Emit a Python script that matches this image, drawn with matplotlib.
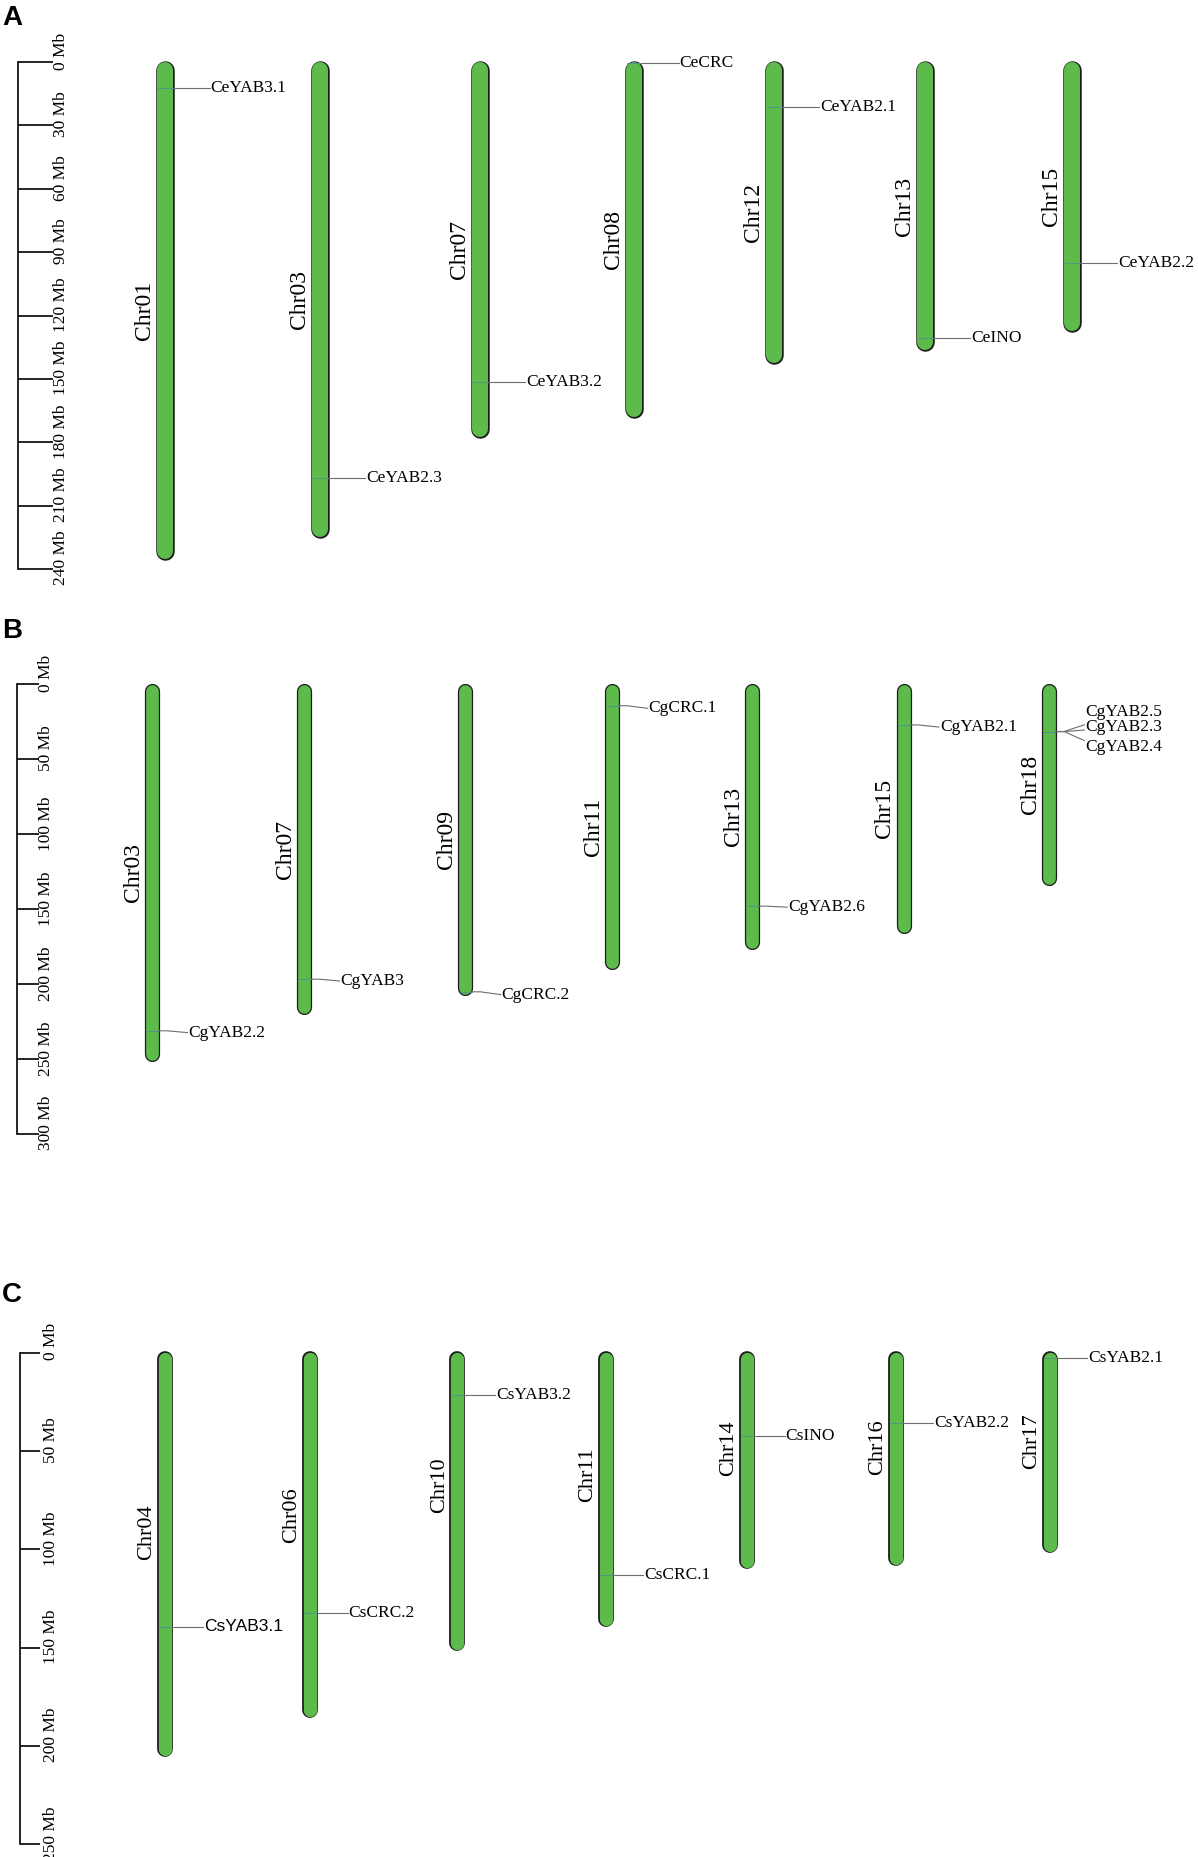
import matplotlib.pyplot as plt
from matplotlib import patheffects as pe

W, H, DPI = 1198, 1857, 100
SERIF = ['Liberation Serif', 'DejaVu Serif']
SANS = ['Liberation Sans', 'DejaVu Sans']

# ---- Panel A (Ce) ----
a_chroms = ['Chr01', 'Chr03', 'Chr07', 'Chr08', 'Chr12', 'Chr13', 'Chr15']
a_lengths = [235.0, 225.0, 177.6, 167.9, 142.6, 136.4, 127.3]
a_genes = ['CeYAB3.1', 'CeYAB2.3', 'CeYAB3.2', 'CeCRC', 'CeYAB2.1', 'CeINO', 'CeYAB2.2']
a_gene_chrom = ['Chr01', 'Chr03', 'Chr07', 'Chr08', 'Chr12', 'Chr13', 'Chr15']
a_gene_pos = [12.5, 196.8, 151.3, 0.6, 21.2, 130.5, 95.3]

# ---- Panel B (Cg) ----
b_chroms = ['Chr03', 'Chr07', 'Chr09', 'Chr11', 'Chr13', 'Chr15', 'Chr18']
b_lengths = [250.8, 219.7, 206.6, 189.5, 175.7, 165.7, 133.1]
b_genes = ['CgYAB2.2', 'CgYAB3', 'CgCRC.2', 'CgCRC.1', 'CgYAB2.6', 'CgYAB2.1',
           'CgYAB2.5', 'CgYAB2.3', 'CgYAB2.4']
b_gene_chrom = ['Chr03', 'Chr07', 'Chr09', 'Chr11', 'Chr13', 'Chr15',
                'Chr18', 'Chr18', 'Chr18']
b_gene_pos = [231.0, 196.6, 205.0, 14.3, 147.9, 27.1, 31.5, 31.5, 31.5]

# ---- Panel C (Cs) ----
c_chroms = ['Chr04', 'Chr06', 'Chr10', 'Chr11', 'Chr14', 'Chr16', 'Chr17']
c_lengths = [204.7, 185.2, 151.0, 138.9, 109.1, 107.5, 101.0]
c_genes = ['CsYAB3.1', 'CsCRC.2', 'CsYAB3.2', 'CsCRC.1', 'CsINO', 'CsYAB2.2', 'CsYAB2.1']
c_gene_chrom = ['Chr04', 'Chr06', 'Chr10', 'Chr11', 'Chr14', 'Chr16', 'Chr17']
c_gene_pos = [139.3, 132.2, 21.5, 113.1, 42.1, 35.8, 2.8]

# layout (pixels of the output image)
panels = [
    dict(letter='A', top=0, bottom=615, zero=62, px_mb=2.113, letter_y=5,
         ruler_max=240, ruler_step=30, ruler_x=18.3, tick_end=53, tick_text_x=53,
         xs=[164.7, 320.3, 479.9, 633.7, 774.1, 924.9, 1072.3], width=16,
         line_len=37, label_frac=0.5, chr_fs=17,
         label_end=None, label_text=None,
         chroms=a_chroms, lengths=a_lengths, genes=a_genes,
         gene_chrom=a_gene_chrom, gene_pos=a_gene_pos),
    dict(letter='B', top=615, bottom=1265, zero=684.3, px_mb=1.5, letter_y=618,
         ruler_max=300, ruler_step=50, ruler_x=17.3, tick_end=39, tick_text_x=38,
         xs=[152.0, 304.2, 465.4, 612.2, 751.9, 903.5, 1049.0], width=12.7,
         line_len=29, label_frac=0.5, chr_fs=17,
         # where the leader lines end / where the names sit (Mb)
         label_end=[232.2, 197.8, 206.9, 16.0, 148.6, 28.5, 27.0, 30.5, 37.5],
         label_text=[232.2, 197.8, 206.9, 16.0, 148.6, 28.5, 18.3, 28.7, 42.0],
         chroms=b_chroms, lengths=b_lengths, genes=b_genes,
         gene_chrom=b_gene_chrom, gene_pos=b_gene_pos),
    dict(letter='C', top=1265, bottom=1857, zero=1352.7, px_mb=1.967, letter_y=1282,
         ruler_max=250, ruler_step=50, ruler_x=20, tick_end=40, tick_text_x=43,
         xs=[165.0, 310.0, 457.3, 605.7, 747.0, 895.8, 1049.7], width=13.3,
         line_len=31, label_frac=0.445, chr_fs=16,
         label_end=None, label_text=None,
         chroms=c_chroms, lengths=c_lengths, genes=c_genes,
         gene_chrom=c_gene_chrom, gene_pos=c_gene_pos),
]
sans_labels = {'CsYAB3.1'}

FILL = '#5dbb4c'
EDGE = '#1c1c1c'
LEADER = '#6e6e6e'

fig = plt.figure(figsize=(W / DPI, H / DPI), dpi=DPI)

for p in panels:
    top, bottom, zero, k = p['top'], p['bottom'], p['zero'], p['px_mb']
    ax = fig.add_axes([0, 1 - bottom / H, 1, (bottom - top) / H])
    ax.set_xlim(0, W)
    ax.set_ylim((bottom - zero) / k, (top - zero) / k)
    ax.axis('off')

    # panel letter
    fig.text(2 / W, 1 - p['letter_y'] / H, p['letter'], ha='left', va='top',
             fontsize=20, fontweight='bold', family=SANS)

    # scale ruler
    ticks = list(range(0, p['ruler_max'] + 1, p['ruler_step']))
    ax.plot([p['ruler_x'], p['ruler_x']], [0, p['ruler_max']], color='black', lw=1.2)
    ax.hlines(ticks, p['ruler_x'], p['tick_end'], color='black', lw=1.2)
    for t in ticks:
        ax.text(p['tick_text_x'], t - 11 / k, f'{t} Mb', rotation=90, ha='left',
                va='center', fontsize=12.5, family=SERIF)

    # chromosomes
    w = p['width']
    lw_pt = w * 72 / DPI
    r = (w / 2) / k
    for name, L, x in zip(p['chroms'], p['lengths'], p['xs']):
        ln, = ax.plot([x, x], [r, L - r], color=FILL, lw=lw_pt,
                      solid_capstyle='round')
        ln.set_path_effects([pe.Stroke(linewidth=lw_pt + 1.8, foreground=EDGE),
                             pe.Normal()])
        ax.text(x - w / 2 - 2, p['label_frac'] * L, name, rotation=90,
                ha='right', va='center', fontsize=p['chr_fs'], family=SERIF)

    # genes
    xmap = dict(zip(p['chroms'], p['xs']))
    for i, (g, c, pos) in enumerate(zip(p['genes'], p['gene_chrom'], p['gene_pos'])):
        x = xmap[c]
        xr = x + w / 2
        y_end = p['label_end'][i] if p['label_end'] else pos
        y_txt = p['label_text'][i] if p['label_text'] else pos
        ax.plot([x - w / 2 + 1, xr], [pos, pos], color='#4f8f95', lw=0.6, zorder=3)
        ax.plot([xr, xr + 0.3 * p['line_len'], xr + p['line_len']],
                [pos, pos, y_end], color=LEADER, lw=0.8, zorder=3)
        ax.text(xr + p['line_len'] + 1, y_txt, g, ha='left', va='center',
                fontsize=12.5, family=SANS if g in sans_labels else SERIF)

fig.savefig('out.png', dpi=DPI)
